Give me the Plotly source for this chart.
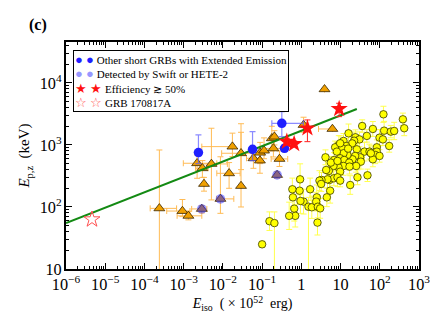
import plotly.graph_objects as go

# ---- data ----
# yellow circles: short GRB sample (long-GRB-like cloud)
yel_eiso = [124, 388, 420, 129, 191, 233, 66.5, 35.6, 16.0, 24.0, 46.8, 98.4, 120, 30.4, 22.2,
            19.8, 11.9, 9.04, 7.28, 13.9, 11.0, 26.0, 84.1, 174, 40.8, 54.7, 84.1, 76.4, 66.5, 98.4,
            31.6, 23.6, 20.2, 32.9, 15.0, 11.9, 8.04, 6.87, 9.77, 12.4, 16.6, 25.0, 11.9, 8.85, 9.77,
            6.61, 5.02, 4.30, 5.65, 4.13, 5.22, 6.75, 8.36, 9.77, 4.65, 3.27, 2.90, 27.0, 48.6, 17.6,
            5.43, 4.47, 3.20, 1.68, 0.93, 0.90, 0.59, 0.61, 0.66, 0.70, 0.49, 1.14, 1.52, 1.85, 2.48,
            2.39, 2.63, 3.02, 2.58, 0.154, 0.206, 0.100, 0.95, 9.77, 15.6, 59.2, 8.36, 16.9]
yel_ep = [3120, 2590, 1860, 1700, 1640, 1680, 1810, 2020, 1540, 1330, 1400, 1310, 1230, 1230, 1170,
          1060, 1160, 1000, 917, 963, 884, 851, 917, 963, 781, 781, 781, 690, 587, 665,
          632, 665, 587, 538, 690, 735, 781, 573, 610, 573, 519, 458, 458, 436, 371,
          458, 381, 395, 519, 632, 273, 290, 301, 266, 279, 273, 266, 301, 324, 226,
          183, 143, 235, 193, 279, 183, 193, 143, 94, 72, 72, 122, 101, 99, 143,
          122, 101, 95, 56, 59, 55, 25, 125, 1065, 873, 735, 552, 448]
# error sizes in dex (upper, lower)
yel_up = [0.13, 0.10, 0.12, 0.15, 0.10, 0.14, 0.12, 0.10, 0.15, 0.12, 0.10, 0.13, 0.10, 0.12, 0.14,
          0.10, 0.12, 0.15, 0.10, 0.12, 0.14, 0.10, 0.12, 0.10, 0.15, 0.12, 0.10, 0.14, 0.12, 0.10,
          0.12, 0.15, 0.10, 0.12, 0.14, 0.10, 0.15, 0.12, 0.10, 0.14, 0.12, 0.10, 0.15, 0.12, 0.10,
          0.14, 0.12, 0.15, 0.10, 0.12, 0.18, 0.12, 0.15, 0.10, 0.14, 0.12, 0.16, 0.12, 0.10, 0.15,
          0.20, 0.15, 0.12, 0.18, 0.25, 0.20, 0.18, 0.15, 0.20, 0.18, 0.22, 0.20, 0.15, 0.18, 0.20,
          0.15, 0.18, 0.16, 0.20, 0.15, 0.18, 0.05, 0.20, 0.12, 0.10, 0.12, 0.14, 0.12]
yel_lo = [0.13, 0.10, 0.12, 0.15, 0.10, 0.14, 0.12, 0.10, 0.15, 0.12, 0.10, 0.13, 0.10, 0.12, 0.14,
          0.10, 0.12, 0.15, 0.10, 0.12, 0.14, 0.10, 0.12, 0.10, 0.15, 0.12, 0.10, 0.14, 0.12, 0.10,
          0.12, 0.15, 0.10, 0.12, 0.14, 0.10, 0.15, 0.12, 0.10, 0.14, 0.12, 0.10, 0.15, 0.12, 0.10,
          0.14, 0.12, 0.15, 0.10, 0.12, 0.18, 0.12, 0.15, 0.10, 0.14, 0.12, 0.16, 0.12, 0.10, 0.15,
          0.20, 0.15, 0.12, 0.18, 0.25, 0.20, 0.18, 0.15, 0.20, 0.18, 0.22, 0.20, 1.20, 0.18, 0.20,
          0.15, 0.18, 0.16, 0.20, 0.15, 1.50, 0.05, 0.20, 0.12, 0.10, 0.12, 0.14, 0.12]

# orange triangles: short GRBs with extended emission
tri_eiso = [2.4e-4, 9.3e-4, 1.32e-3, 2.9e-3, 2.2e-3, 3.0e-3, 3.3e-3, 5.1e-3, 1.44e-2, 1.75e-2,
            2.9e-2, 2.9e-2, 6.0e-2, 8.8e-2, 8.9e-2, 0.112, 0.177, 0.206, 0.194, 0.277,
            1.14, 6.2, 3.9, 8.65e-3, 0.241]
tri_ep = [95, 86, 72, 93, 507, 421, 235, 494, 349, 940,
          218, 735, 610, 560, 750, 810, 1280, 1360, 880, 595,
          2100, 1810, 7900, 135, 328]
tri_x_lo = [1.4e-4, 3.7e-4, 6.8e-4, 1.6e-3, 9.8e-4, 2.0e-3, 3.3e-3, 2.6e-3, 7.0e-3, 2.9e-3,
            2.9e-2, 9.3e-3, 4.0e-2, 8.8e-2, 8.9e-2, 0.112, 0.177, 0.206, 0.10, 0.17,
            1.14, 2.74, 3.9, 6.9e-3, 0.241]
tri_x_hi = [6.6e-4, 1.45e-3, 2.9e-3, 3.9e-3, 7.0e-3, 4.2e-3, 3.3e-3, 1.3e-2, 2.75e-2, 1.75e-2,
            2.9e-2, 5.5e-2, 9.0e-2, 8.8e-2, 8.9e-2, 0.112, 0.177, 0.206, 0.35, 0.45,
            1.14, 6.2, 3.9, 1.9e-2, 0.241]
tri_y_lo = [5, 70, 62, 80, 290, 300, 180, 130, 200, 650,
            100, 400, 420, 350, 500, 600, 800, 1000, 640, 450,
            1600, 1810, 7900, 79, 290]
tri_y_hi = [830, 132, 85, 105, 690, 560, 300, 1860, 520, 1550,
            1600, 2200, 880, 800, 1100, 1300, 2000, 1700, 1200, 800,
            2800, 1810, 7900, 645, 370]

# translucent blue: detected by Swift or HETE-2
sw_eiso = [2.9e-3, 8.65e-3, 0.241]
sw_ep = [93, 135, 328]

# solid blue circles: other short GRBs with EE
blu_eiso = [2.38e-3, 5.7e-2, 0.318, 0.372]
blu_ep = [753, 851, 2230, 883]
blu_x_lo = [2.38e-3, 5.7e-2, 0.177, 0.372]
blu_x_hi = [2.38e-3, 5.7e-2, 1.13, 0.372]
blu_y_lo = [500, 560, 1360, 780]
blu_y_hi = [1450, 1640, 3450, 1000]

# red stars: efficiency >= 50%
red_eiso = [9.2, 1.43, 0.427, 0.655]
red_ep = [3810, 1860, 1130, 1040]
red_y_lo = [2860, 1130, 1000, 930]
red_y_hi = [4700, 2530, 1280, 1160]

# GRB 170817A
gw_eiso = [4.6e-6]
gw_ep = [63]

# green fit line end points
fit_eiso = [1e-6, 26]
fit_ep = [55, 3800]

legend_labels = ["Other short GRBs with Extended Emission", "Detected by Swift or HETE-2",
                 "Efficiency \u2273 50%", "GRB 170817A"]

SERIF = "Times New Roman, Liberation Serif, serif"

fig = go.Figure()

yel_plus = [e * (10 ** u - 1) for e, u in zip(yel_ep, yel_up)]
yel_minus = [e * (1 - 10 ** -d) for e, d in zip(yel_ep, yel_lo)]
fig.add_trace(go.Scatter(
    x=yel_eiso, y=yel_ep, mode="markers",
    marker=dict(symbol="circle", size=7.5, color="#ffff00", line=dict(color="#3a3a00", width=0.8)),
    error_y=dict(type="data", array=yel_plus, arrayminus=yel_minus, color="#ffff4d", thickness=1, width=3),
))

fig.add_trace(go.Scatter(
    x=tri_eiso, y=tri_ep, mode="markers",
    marker=dict(symbol="triangle-up", size=9.5, color="#f0a000", line=dict(color="#3a2600", width=0.8)),
    error_x=dict(type="data", array=[h - x for h, x in zip(tri_x_hi, tri_eiso)],
                 arrayminus=[x - l for l, x in zip(tri_x_lo, tri_eiso)],
                 color="#ffbb55", thickness=1, width=3),
    error_y=dict(type="data", array=[h - y for h, y in zip(tri_y_hi, tri_ep)],
                 arrayminus=[y - l for l, y in zip(tri_y_lo, tri_ep)],
                 color="#ffbb55", thickness=1, width=3),
))

fig.add_trace(go.Scatter(
    x=fit_eiso, y=fit_ep, mode="lines",
    line=dict(color="#138a13", width=2),
))

fig.add_trace(go.Scatter(
    x=blu_eiso, y=blu_ep, mode="markers", name=legend_labels[0],
    marker=dict(symbol="circle", size=9.5, color="#1f1fff"),
    error_x=dict(type="data", array=[h - x for h, x in zip(blu_x_hi, blu_eiso)],
                 arrayminus=[x - l for l, x in zip(blu_x_lo, blu_eiso)],
                 color="rgba(90,90,255,0.7)", thickness=1.2, width=3),
    error_y=dict(type="data", array=[h - y for h, y in zip(blu_y_hi, blu_ep)],
                 arrayminus=[y - l for l, y in zip(blu_y_lo, blu_ep)],
                 color="rgba(90,90,255,0.7)", thickness=1.2, width=3),
))

fig.add_trace(go.Scatter(
    x=sw_eiso, y=sw_ep, mode="markers", name=legend_labels[1],
    marker=dict(symbol="circle", size=9.5, color="rgba(40,40,255,0.5)"),
))

fig.add_trace(go.Scatter(
    x=red_eiso, y=red_ep, mode="markers", name=legend_labels[2],
    marker=dict(symbol="star", size=13, color="#ff1010", line=dict(width=0)),
    error_y=dict(type="data", array=[h - y for h, y in zip(red_y_hi, red_ep)],
                 arrayminus=[y - l for l, y in zip(red_y_lo, red_ep)],
                 color="#ff2020", thickness=1, width=3),
))

fig.add_trace(go.Scatter(
    x=gw_eiso, y=gw_ep, mode="markers", name=legend_labels[3],
    marker=dict(symbol="star-open", size=12, color="#ff5050", line=dict(width=1)),
))

axis_common = dict(
    type="log", dtick=1, exponentformat="power", showexponent="all",
    ticks="inside", ticklen=6, tickwidth=1, tickcolor="black",
    showline=True, linecolor="black", linewidth=1.5, mirror="allticks",
    showgrid=False, zeroline=False, automargin=False,
    minor=dict(ticks="inside", ticklen=3, tickcolor="black", dtick="D1", showgrid=False),
    tickfont=dict(family=SERIF, size=13, color="black"),
)

fig.update_xaxes(**axis_common, range=[-6, 3],
                 title=dict(text="<i>E</i><sub>iso</sub>  ( \u00d7 10<sup>52</sup>  erg)",
                            font=dict(family=SERIF, size=14, color="black"), standoff=4))
fig.update_yaxes(**axis_common, range=[1, 4.66],
                 title=dict(text="<i>E</i><sub>p,z</sub>  (keV)",
                            font=dict(family=SERIF, size=15, color="black"), standoff=6))

fig.add_annotation(text="<b>(c)</b>", xref="paper", yref="paper", x=-0.11, y=1.075,
                   xanchor="left", yanchor="middle", showarrow=False,
                   font=dict(family=SERIF, size=16, color="black"))

# legend drawn as a boxed text block (two symbols per entry, as in the figure)
sym = [
    "<span style='color:#1f1fff;font-size:13px'>\u25cf \u25cf</span>",
    "<span style='color:rgba(60,60,255,0.55);font-size:13px'>\u25cf \u25cf</span>",
    "<span style='color:#ff1010;font-size:13px'>\u2605 \u2605</span>",
    "<span style='color:#ff5050;font-size:13px'>\u2606 \u2606</span>",
]
legend_text = "<br>".join(f"{s} {lab}" for s, lab in zip(sym, legend_labels))
fig.add_annotation(text=legend_text, xref="paper", yref="paper", x=0.02, y=0.965,
                   xanchor="left", yanchor="top", align="left", showarrow=False,
                   bgcolor="white", bordercolor="black", borderwidth=1, borderpad=1,
                   font=dict(family=SERIF, size=11, color="black"))

# the page adds an 8 px body margin, so the figure is 8 px smaller than the window
fig.update_layout(
    width=439, height=325,
    margin=dict(l=58, r=28, t=34, b=64),
    plot_bgcolor="white", paper_bgcolor="white",
    showlegend=False,
)

fig.write_html("out.html")
